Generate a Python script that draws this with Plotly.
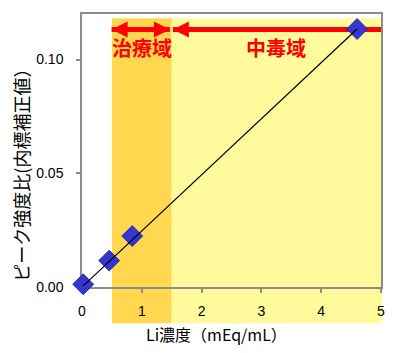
import plotly.graph_objects as go

# ---- data ----
conc = [0.02, 0.455, 0.84, 4.6]           # Li濃度 (mEq/mL)
ratio = [0.0012, 0.0116, 0.0224, 0.1134]  # ピーク強度比
fit_x = [0.02, 4.6]
fit_y = [0.0005, 0.1134]
x_ticks = [0, 1, 2, 3, 4, 5]
y_ticks = [0.0, 0.05, 0.10]
therapeutic = [0.5, 1.5]
toxic = [1.5, 5.0]
arrow1_x = [0.495, 1.47]
arrow2_x = [1.52, 5.0]
arrow_y = 0.1132
x_range = [0, 5]
y_range = [0, 0.12]

def px(v):
    return (v - x_range[0]) / (x_range[1] - x_range[0])

fig = go.Figure()

# red arrows (drawn as traces so the data markers sit on top)
fig.add_trace(go.Scatter(
    x=arrow1_x, y=[arrow_y, arrow_y], mode="lines+markers",
    line=dict(color="#ff0000", width=5),
    marker=dict(symbol=["arrow-left", "arrow-right"], size=16, color="#ff0000",
                line=dict(width=0)),
    cliponaxis=False, hoverinfo="skip", showlegend=False))
fig.add_trace(go.Scatter(
    x=arrow2_x, y=[arrow_y, arrow_y], mode="lines",
    line=dict(color="#ff0000", width=5),
    cliponaxis=False, hoverinfo="skip", showlegend=False))
fig.add_trace(go.Scatter(
    x=arrow2_x[:1], y=[arrow_y], mode="markers",
    marker=dict(symbol="arrow-left", size=16, color="#ff0000", line=dict(width=0)),
    cliponaxis=False, hoverinfo="skip", showlegend=False))

# data points
fig.add_trace(go.Scatter(
    x=conc, y=ratio, mode="markers",
    marker=dict(symbol="diamond", size=16, color="#3535cf",
                line=dict(color="#2828a8", width=1)),
    cliponaxis=False, showlegend=False))

# fitted line
fig.add_trace(go.Scatter(
    x=fit_x, y=fit_y, mode="lines",
    line=dict(color="black", width=1.2),
    cliponaxis=False, showlegend=False))

band_bottom = -0.133
band_top = 0.984
fig.add_shape(type="rect", xref="paper", yref="paper",
              x0=px(therapeutic[0]), x1=px(therapeutic[1]), y0=band_bottom, y1=band_top,
              fillcolor="#ffd84f", line=dict(width=0), layer="below")
fig.add_shape(type="rect", xref="paper", yref="paper",
              x0=px(toxic[0]), x1=px(toxic[1]) + 0.004, y0=band_bottom, y1=band_top,
              fillcolor="#fffb9c", line=dict(width=0), layer="below")

red_font = dict(family="Noto Sans CJK JP", size=20, color="#ff0000")
fig.add_annotation(x=sum(therapeutic) / 2, y=0.1054, text="<b>治療域</b>",
                   showarrow=False, font=red_font)
fig.add_annotation(x=sum(toxic) / 2, y=0.1054, text="<b>中毒域</b>",
                   showarrow=False, font=red_font)

title_font = dict(family="Noto Sans CJK JP", size=16, color="black")
fig.add_annotation(xref="paper", yref="paper", x=0.4515, y=-0.173,
                   xanchor="center", yanchor="middle",
                   text="Li濃度（mEq/mL）", showarrow=False, font=title_font)
fig.add_annotation(xref="paper", yref="paper", x=-0.207, y=0.4265,
                   xanchor="center", yanchor="middle",
                   text="ピーク強度比(内標補正値）", showarrow=False, textangle=-90,
                   font=dict(family="Noto Sans CJK JP", size=18, color="black"))

axis_common = dict(showline=True, linecolor="#8c8c8c", linewidth=1.5, mirror=True,
                   ticks="outside", ticklen=4, tickcolor="#8c8c8c", tickwidth=1.5,
                   showgrid=False, zeroline=False, layer="below traces",
                   tickfont=dict(family="Liberation Sans", size=14, color="black"))

fig.update_xaxes(range=x_range, tickvals=x_ticks, ticklabelstandoff=6, **axis_common)
fig.update_yaxes(range=y_range, tickvals=y_ticks, tickformat=".2f",
                 ticklabelstandoff=10, **axis_common)

fig.update_layout(width=400, height=353,
                  margin=dict(l=82, r=19, t=12, b=66),
                  paper_bgcolor="white", plot_bgcolor="rgba(0,0,0,0)")

fig.write_html("out.html")
